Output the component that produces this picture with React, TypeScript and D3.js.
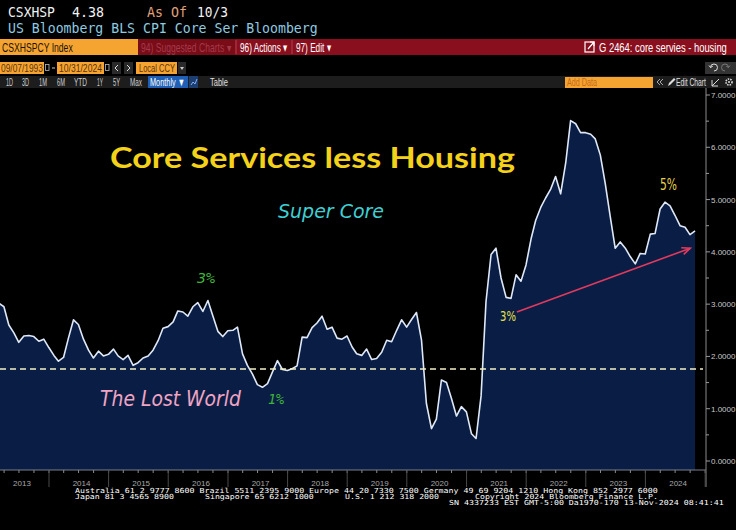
import React from "react";
import * as d3 from "d3";

// ---- Data (month-end values, Feb 2013 .. Oct 2024) ----
const seriesStart = { year: 2013, month: 1 }; // Feb 2013 (0-based month)
const superCore: number[] = [
  3.02, 2.95, 2.6, 2.45, 2.27, 2.39, 2.4, 2.38, 2.29, 2.33,
  2.17, 2.02, 1.91, 1.98, 2.35, 2.7, 2.61, 2.33, 2.12, 1.97, 2.1, 2.01,
  2.04, 2.14, 2.01, 1.94, 2.02, 1.83, 1.88, 1.97, 2.01, 2.12, 2.3, 2.54,
  2.57, 2.66, 2.87, 2.85, 2.77, 2.95, 3.03, 2.86, 3.07, 2.78, 2.48, 2.38,
  2.49, 2.5, 2.56, 2.05, 1.83, 1.66, 1.46, 1.41, 1.48, 1.7, 1.92, 1.75,
  1.73, 1.77, 1.82, 2.37, 2.36, 2.55, 2.64, 2.77, 2.52, 2.56, 2.35, 2.33,
  2.39, 2.18, 2.05, 2.02, 2.14, 1.94, 1.96, 2.08, 2.31, 2.28, 2.5, 2.7,
  2.56, 2.71, 2.84, 2.31, 1.1, 0.62, 0.8, 1.55, 1.5, 1.2, 0.86, 1.04,
  0.94, 0.52, 0.43, 1.25, 3.05, 3.95, 4.07, 3.5, 3.13, 3.11, 3.56, 3.44,
  3.75, 4.25, 4.6, 4.85, 5.03, 5.2, 5.44, 5.11, 5.7, 6.51, 6.45, 6.28,
  6.28, 6.25, 6.16, 5.85, 5.31, 4.67, 4.07, 4.19, 4.07, 3.91, 3.77, 3.97,
  3.96, 4.34, 4.35, 4.82, 4.95, 4.88, 4.7, 4.5, 4.47, 4.33, 4.4,
];
const yearLabels: number[] = [2013, 2014, 2015, 2016, 2017, 2018, 2019, 2020, 2021, 2022, 2023, 2024];
const yTicks: number[] = [0, 1, 2, 3, 4, 5, 6, 7];
const lostWorldLevel = 1.76;
const arrowFrom = { date: new Date(2021, 10, 5), value: 2.85 };
const arrowTo = { date: new Date(2024, 9, 2), value: 4.07 };

const footerLine1 = "Australia 61 2 9777 8600 Brazil 5511 2395 9000 Europe 44 20 7330 7500 Germany 49 69 9204 1210 Hong Kong 852 2977 6000";
const footerLine2 = ["Japan 81 3 4565 8900", "Singapore 65 6212 1000", "U.S. 1 212 318 2000", "Copyright 2024 Bloomberg Finance L.P."];
const footerLine3 = "SN 4337233 EST  GMT-5:00 Da1970-170 13-Nov-2024 08:41:41";
const periodButtons = ["1D", "3D", "1M", "6M", "YTD", "1Y", "5Y", "Max"];

const W = 736;
const H = 530;
const plotLeft = 0;
const plotRight = 706;
const plotTop = 88;
const plotBottom = 470;

const NARROW = "'Liberation Sans Narrow', 'Arial Narrow', 'Liberation Sans', sans-serif";
const MONO = "'DejaVu Sans Mono', 'Liberation Mono', monospace";

const periodLayout = [
  [6, 7], [22, 7], [39, 8], [57, 8], [74, 13], [97, 6], [113, 7], [130, 12],
];

let measureCtx: CanvasRenderingContext2D | null = null;
function measure(text: string, size: number, family: string, weight = "normal"): number {
  if (!measureCtx) measureCtx = document.createElement("canvas").getContext("2d");
  if (!measureCtx) return text.length * size * 0.5;
  measureCtx.font = `${weight} ${size}px ${family}`;
  return measureCtx.measureText(text).width || text.length * size * 0.5;
}

function FitText(props: {
  x: number; y: number; w: number; size: number; fill: string; family?: string; weight?: string; children: string;
}) {
  const family = props.family || NARROW;
  const nat = measure(props.children, props.size, family, props.weight || "normal");
  const sx = props.w / nat;
  return (
    <text
      transform={`translate(${props.x},${props.y}) scale(${sx},1)`}
      fontFamily={family}
      fontSize={props.size}
      fontWeight={props.weight || "normal"}
      fill={props.fill}
    >
      {props.children}
    </text>
  );
}

export default function App() {
  const data = superCore.map((v, i) => ({
    date: new Date(seriesStart.year, seriesStart.month + i + 1, 0),
    value: v,
  }));

  const x = d3.scaleTime().domain([new Date(2014, 0, 1), new Date(2024, 0, 1)]).range([49, 645.4]);
  const y = d3.scaleLinear().domain([0, 7]).range([461, 95]);

  const area = d3
    .area<{ date: Date; value: number }>()
    .x((d) => x(d.date))
    .y0(plotBottom)
    .y1((d) => y(d.value));
  const line = d3
    .line<{ date: Date; value: number }>()
    .x((d) => x(d.date))
    .y((d) => y(d.value));

  const yearStarts = d3.timeYear.range(new Date(2013, 0, 1), new Date(2025, 0, 2));
  const quarters = d3.timeMonth.every(3)!.range(new Date(2013, 0, 1), new Date(2025, 0, 2));
  const halfTicks = d3.range(0, 7.01, 0.5);

  const ax1 = x(arrowFrom.date), ay1 = y(arrowFrom.value);
  const ax2 = x(arrowTo.date), ay2 = y(arrowTo.value);
  const ang = Math.atan2(ay2 - ay1, ax2 - ax1);
  const hl = 9;
  const h1 = [ax2 - hl * Math.cos(ang - 0.4), ay2 - hl * Math.sin(ang - 0.4)];
  const h2 = [ax2 - hl * Math.cos(ang + 0.4), ay2 - hl * Math.sin(ang + 0.4)];

  return (
    <>
      <style>{"body{margin:0;background:#000;}"}</style>
      <svg width={W} height={H} style={{ position: "absolute", left: 0, top: 0, display: "block" }}>
        <defs>
          <clipPath id="plotClip">
            <rect x={plotLeft} y={plotTop} width={plotRight - plotLeft} height={plotBottom - plotTop} />
          </clipPath>
        </defs>
        <rect x={0} y={0} width={W} height={H} fill="#000" />

        {/* Header line 1 */}
        <FitText x={8} y={17} w={47} size={14} family={MONO} fill="#f2f2f2">CSXHSP</FitText>
        <FitText x={72} y={17} w={32} size={14} family={MONO} fill="#f2f2f2">4.38</FitText>
        <FitText x={147} y={17} w={40} size={14} family={MONO} fill="#e0a07a">As Of</FitText>
        <FitText x={197} y={17} w={31} size={14} family={MONO} fill="#f2f2f2">10/3</FitText>
        {/* Header line 2 */}
        <FitText x={8} y={33} w={310} size={14} family={MONO} fill="#8ecbe0">US Bloomberg BLS CPI Core Ser Bloomberg</FitText>

        {/* Row 3: red command bar */}
        <rect x={0} y={39} width={W} height={16} fill="#8a0f1e" />
        <rect x={138} y={39} width={97} height={16} fill="#7a0c18" />
        <rect x={0} y={39} width={138} height={16} fill="#f6a431" />
        <FitText x={2} y={52} w={71} size={13} fill="#1a1208">CSXHSPCY Index</FitText>
        <FitText x={141} y={52} w={90} size={12} fill="#a33a4a">94) Suggested Charts ▾</FitText>
        <line x1={236} y1={40} x2={236} y2={54} stroke="#b0404e" strokeWidth={1} />
        <FitText x={240} y={52} w={48} size={13} fill="#ffffff">96) Actions ▾</FitText>
        <line x1={292} y1={40} x2={292} y2={54} stroke="#b0404e" strokeWidth={1} />
        <FitText x={296} y={52} w={35} size={13} fill="#ffffff">97) Edit ▾</FitText>
        <rect x={585} y={42} width={9} height={10} fill="none" stroke="#ffffff" strokeWidth={1.2} />
        <path d="M588 49 L594 42 M590 42 L594 42 L594 46" stroke="#ffffff" strokeWidth={1.2} fill="none" />
        <FitText x={599} y={52} w={128} size={13} fill="#ffffff">G 2464: core servies - housing</FitText>

        {/* Row 4: dates */}
        <rect x={0} y={62} width={44} height={12} fill="#f6a431" />
        <FitText x={1} y={72} w={42} size={11} fill="#5a3208">09/07/1993</FitText>
        <rect x={45.5} y={64.5} width={3.5} height={6} fill="none" stroke="#bbb" strokeWidth={0.8} />
        <line x1={52} x2={55} y1={68} y2={68} stroke="#ccc" strokeWidth={1} />
        <rect x={57} y={62} width={47} height={12} fill="#f6a431" />
        <FitText x={59} y={72} w={43} size={11} fill="#5a3208">10/31/2024</FitText>
        <rect x={105.5} y={64.5} width={3.5} height={6} fill="none" stroke="#bbb" strokeWidth={0.8} />
        <rect x={112} y={62} width={9} height={12} fill="#2a2a2a" />
        <path d="M118 65 L115 68 L118 71" stroke="#ddd" strokeWidth={1} fill="none" />
        <rect x={124} y={62} width={9} height={12} fill="#2a2a2a" />
        <path d="M127 65 L130 68 L127 71" stroke="#ddd" strokeWidth={1} fill="none" />
        <rect x={136} y={62} width={41} height={12} fill="#f6a431" />
        <FitText x={139} y={72} w={36} size={11} fill="#5a3208">Local CCY</FitText>
        <rect x={178} y={62} width={8} height={12} fill="#2a2a2a" />
        <path d="M180 67 L184 67 L182 70 Z" fill="#ccc" />
        <rect x={705} y={62} width={31} height={12} fill="#333" />
        <path d="M714 71 A3.5 3.5 0 1 0 710.5 67.5 M709 65.5 L710.5 67.5 L712.8 66.2" stroke="#ddd" strokeWidth={1} fill="none" />
        <path d="M725 71 A3.5 3.5 0 1 1 728.5 67.5 M730 65.5 L728.5 67.5 L726.2 66.2" stroke="#777" strokeWidth={1} fill="none" />

        {/* Row 5: toolbar */}
        <rect x={0} y={76} width={W} height={12} fill="#1d1d1d" />
        {periodButtons.map((b, i) => (
          <FitText key={b} x={periodLayout[i][0]} y={86} w={periodLayout[i][1]} size={10} fill="#cfcfcf">{b}</FitText>
        ))}
        <rect x={148} y={76} width={40} height={12} fill="#1f5fb5" />
        <FitText x={150} y={86} w={35} size={11} fill="#ffffff">Monthly ▼</FitText>
        <rect x={189} y={76} width={9} height={12} fill="#1d3e70" />
        <path d="M191 85 L193 82 L195 84 L197 79" stroke="#8fb8ff" strokeWidth={0.9} fill="none" />
        <FitText x={210} y={86} w={18} size={11} fill="#e0e0e0">Table</FitText>
        <rect x={565} y={77} width={88} height={11} fill="#f6a431" />
        <FitText x={567} y={86} w={30} size={10} fill="#c46a18">Add Data</FitText>
        <path d="M660 79 L657 82 L660 85 M663 79 L660 82 L663 85" stroke="#bbb" strokeWidth={0.9} fill="none" />
        <path d="M668 86 L669 83 L674 78 L675.5 79.5 L670.5 84.5 Z" fill="#ddd" />
        <FitText x={676} y={86} w={30} size={10} fill="#e0e0e0">Edit Chart</FitText>
        <path d="M712 86 L719 79 M712 80 L712 86 L718 86" stroke="#ddd" strokeWidth={1} fill="none" />
        <circle cx={729} cy={82} r={3} fill="none" stroke="#ddd" strokeWidth={1.6} strokeDasharray="1.5,1" />
        <circle cx={729} cy={82} r={1} fill="#ddd" />

        {/* Plot */}
        <g clipPath="url(#plotClip)">
          <path d={area(data) || ""} fill="#0a1e45" />
          <path d={line(data) || ""} fill="none" stroke="#dfe8f7" strokeWidth={1.6} strokeLinejoin="round" />
          <line x1={plotLeft} x2={703} y1={y(lostWorldLevel)} y2={y(lostWorldLevel)} stroke="#f3f0c4" strokeWidth={1.6} strokeDasharray="6,4" />
        </g>

        {/* Right axis */}
        <line x1={plotRight} x2={plotRight} y1={plotTop} y2={487} stroke="#8a8a8a" strokeWidth={1} />
        {halfTicks.map((t) => (
          <line key={t} x1={plotRight} x2={plotRight + (Number.isInteger(t) ? 4 : 3)} y1={y(t)} y2={y(t)} stroke="#9a9a9a" strokeWidth={1} />
        ))}
        {yTicks.map((t) => (
          <text key={t} x={711} y={y(t) + 3} fontFamily="'Liberation Sans', sans-serif" fontSize={8} fill="#c8c8c8">{d3.format(".4f")(t)}</text>
        ))}

        {/* Bottom axis */}
        <line x1={0} x2={plotRight} y1={plotBottom} y2={plotBottom} stroke="#7a7f8a" strokeWidth={1} />
        {quarters.map((q) => (
          <line key={+q} x1={x(q)} x2={x(q)} y1={plotBottom} y2={plotBottom + 3} stroke="#8a8a8a" strokeWidth={1} />
        ))}
        {yearStarts.map((d) => (
          <line key={+d} x1={x(d)} x2={x(d)} y1={plotBottom} y2={487} stroke="#4a4a4a" strokeWidth={1} />
        ))}
        {yearLabels.map((yr) => (
          <text key={yr} x={x(new Date(yr, 6, 1)) + 3} y={486} textAnchor="middle" fontFamily="'Liberation Sans', sans-serif" fontSize={8} fill="#a8a8a8">{yr}</text>
        ))}

        {/* Annotations */}
        <FitText x={110} y={168} w={405} size={29} weight="bold" family="Lato, 'Open Sans', sans-serif" fill="#f4d21a">Core Services less Housing</FitText>
        <text x={278} y={218} fontFamily="'DejaVu Sans', sans-serif" fontStyle="italic" fontSize={19} fill="#3ed0d4" textLength={106} lengthAdjust="spacingAndGlyphs">Super Core</text>
        <text x={100} y={406} fontFamily="'DejaVu Sans', sans-serif" fontStyle="italic" fontSize={21} fill="#f0a4c4" textLength={141} lengthAdjust="spacingAndGlyphs">The Lost World</text>
        <text x={197} y={283} fontFamily={MONO} fontStyle="italic" fontSize={14} fill="#3fb33a" textLength={18} lengthAdjust="spacingAndGlyphs">3%</text>
        <text x={268} y={404} fontFamily={MONO} fontStyle="italic" fontSize={14} fill="#3fb33a" textLength={16} lengthAdjust="spacingAndGlyphs">1%</text>
        <text x={500} y={321} fontFamily="'DejaVu Sans', sans-serif" fontSize={14} fill="#e6e04a" textLength={16} lengthAdjust="spacingAndGlyphs">3%</text>
        <text x={660} y={190} fontFamily="'DejaVu Sans', sans-serif" fontSize={15} fill="#e6d24a" textLength={17} lengthAdjust="spacingAndGlyphs">5%</text>

        {/* Arrow */}
        <line x1={ax1} y1={ay1} x2={ax2} y2={ay2} stroke="#e23a5e" strokeWidth={1.6} />
        <path d={`M${h1[0]},${h1[1]} L${ax2},${ay2} L${h2[0]},${h2[1]}`} fill="none" stroke="#e23a5e" strokeWidth={1.6} />

        {/* Footer */}
        <FitText x={75} y={493} w={584} size={7} family={MONO} fill="#ffffff">{footerLine1}</FitText>
        {footerLine2.map((s, i) => (
          <FitText key={s} x={[75, 205, 345, 475][i]} y={499} w={s.length * 4.95} size={7} family={MONO} fill="#ffffff">{s}</FitText>
        ))}
        <FitText x={449} y={505} w={280} size={7} family={MONO} fill="#ffffff">{footerLine3}</FitText>
      </svg>
    </>
  );
}
